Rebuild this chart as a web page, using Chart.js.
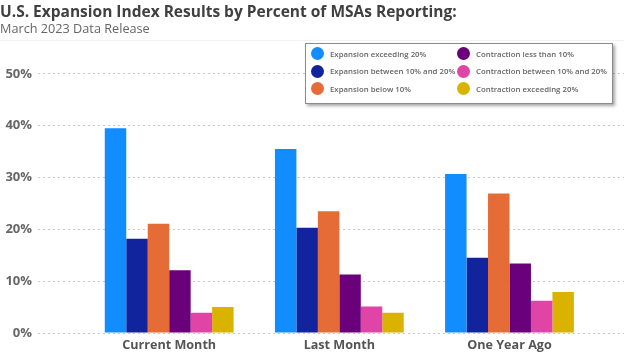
<!DOCTYPE html>
<html>
<head>
<meta charset="utf-8">
<script src="https://cdn.jsdelivr.net/npm/chart.js@4"></script>
<style>
  html, body { margin: 0; padding: 0; background: #fff; }
  #wrap { position: relative; width: 624px; height: 353px; }
  #rule { position: absolute; left: 0; top: 40px; width: 624px; height: 1px; background: #f2f2f2; }
  #legend {
    position: absolute; left: 305px; top: 43px; width: 301px; height: 58px;
    border: 1px solid #8c8c8c; background: #fff;
    box-shadow: 2px 2px 3px rgba(0,0,0,0.35);
    display: grid; grid-auto-flow: column;
    grid-template-rows: repeat(3, 17.5px); grid-template-columns: 146px 150px;
    padding: 1px 0 0 5px;
    font-family: 'Open Sans', sans-serif; font-weight: 600; font-size: 7.8px; color: #666;
  }
  #legend .item { display: flex; align-items: center; white-space: nowrap; }
  #legend .dot { width: 13px; height: 13px; border-radius: 50%; margin-right: 6px; flex: none; }
</style>
</head>
<body>
<div id="wrap">
  <canvas id="chart" width="624" height="353"></canvas>
  <div id="rule"></div>
  <div id="legend"></div>
</div>
<script>
// categories and series (values in percent of MSAs)
const categories = ['Current Month', 'Last Month', 'One Year Ago'];
const seriesNames = [
    'Expansion exceeding 20%',
    'Expansion between 10% and 20%',
    'Expansion below 10%',
    'Contraction less than 10%',
    'Contraction between 10% and 20%',
    'Contraction exceeding 20%'
];
const seriesColors = ['#118DFF', '#12239E', '#E66C37', '#6B007B', '#E044A7', '#D9B300'];

const expansionOver20 = [39.5, 35.5, 30.7];
const expansion10to20 = [18.2, 20.3, 14.5];
const expansionUnder10 = [21.1, 23.5, 26.9];
const contractionUnder10 = [12.1, 11.3, 13.4];
const contraction10to20 = [3.9, 5.1, 6.2];
const contractionOver20 = [5.0, 3.9, 7.9];

const yTicks = [0, 10, 20, 30, 40, 50];

const seriesValues = [expansionOver20, expansion10to20, expansionUnder10,
                      contractionUnder10, contraction10to20, contractionOver20];

const datasets = seriesValues.map((values, s) => ({
    label: seriesNames[s],
    data: values.map((v, i) => ({ x: i, y: v })),
    backgroundColor: seriesColors[s],
    borderWidth: 0,
    categoryPercentage: 0.757,
    barPercentage: 1
}));

const chart = new Chart(document.getElementById('chart'), {
    type: 'bar',
    data: { datasets: datasets },
    options: {
        responsive: false,
        animation: false,
        devicePixelRatio: 1,
        layout: { padding: { left: 0, right: 0, top: 0, bottom: 0 } },
        plugins: {
            legend: { display: false },
            tooltip: { enabled: false },
            title: {
                display: true,
                text: 'U.S. Expansion Index Results by Percent of MSAs Reporting:',
                align: 'start',
                color: '#404040',
                font: { family: 'Open Sans', size: 15.5, weight: 'bold' },
                padding: { top: 3, bottom: 0 }
            },
            subtitle: {
                display: true,
                text: 'March 2023 Data Release',
                align: 'start',
                color: '#666',
                font: { family: 'Open Sans', size: 12.7 },
                padding: { top: 0, bottom: 37 }
            }
        },
        scales: {
            x: {
                type: 'linear',
                offset: false,
                min: -0.771,
                max: 2.673,
                afterBuildTicks: axis => { axis.ticks = categories.map((c, i) => ({ value: i })); },
                afterFit: axis => { axis.height = 20; },
                grid: { display: false, drawTicks: false },
                border: { display: false },
                ticks: {
                    autoSkip: false,
                    maxRotation: 0,
                    padding: 5,
                    color: '#555',
                    font: { family: 'Open Sans', size: 12.6, weight: 'bold' },
                    callback: v => categories[v]
                }
            },
            y: {
                min: 0,
                max: 50,
                afterBuildTicks: axis => { axis.ticks = yTicks.map(v => ({ value: v })); },
                afterFit: axis => { axis.width = 38; },
                grid: { color: '#c8c8c8', drawTicks: false },
                border: { display: false, dash: [2, 3] },
                ticks: {
                    padding: 6,
                    color: '#666',
                    font: { family: 'Open Sans', size: 13, weight: 'bold' },
                    callback: v => v + '%'
                }
            }
        }
    }
});

// legend box laid over the plot, built from the datasets
const legend = document.getElementById('legend');
chart.data.datasets.forEach(ds => {
    const item = document.createElement('div');
    item.className = 'item';
    item.innerHTML = '<span class="dot" style="background:' + ds.backgroundColor + '"></span>' + ds.label;
    legend.appendChild(item);
});
</script>
</body>
</html>
